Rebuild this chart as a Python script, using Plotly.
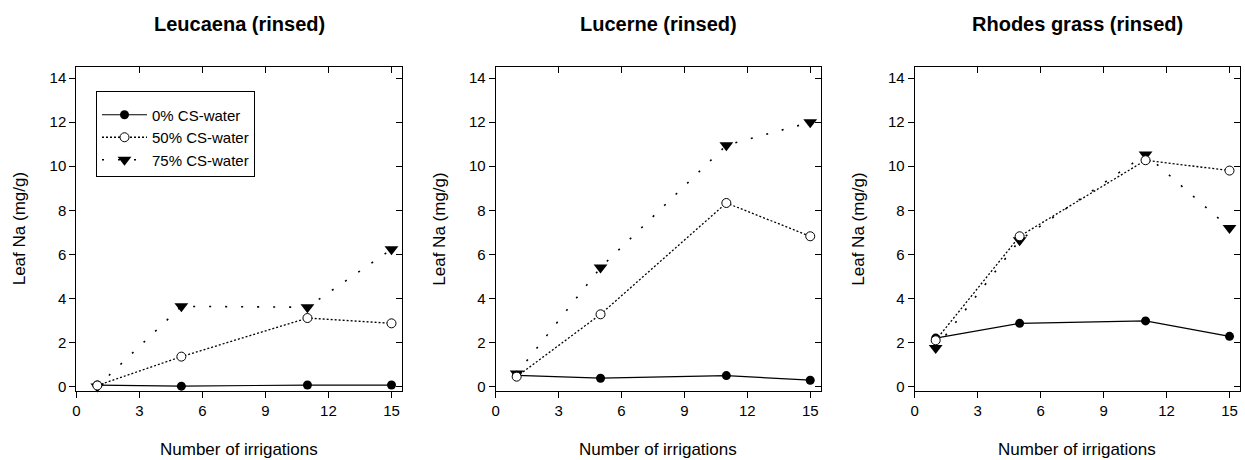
import plotly.graph_objects as go

# ---------------- data ----------------
x_irrig = [1, 5, 11, 15]
panel_titles = ["Leucaena (rinsed)", "Lucerne (rinsed)", "Rhodes grass (rinsed)"]
series_names = ["0% CS-water", "50% CS-water", "75% CS-water"]

leucaena_0 = [0.07, 0.02, 0.07, 0.07]
leucaena_50 = [0.05, 1.36, 3.11, 2.87]
leucaena_75 = [0.00, 3.64, 3.60, 6.23]

lucerne_0 = [0.51, 0.38, 0.50, 0.29]
lucerne_50 = [0.45, 3.28, 8.33, 6.82]
lucerne_75 = [0.59, 5.40, 10.95, 11.99]

rhodes_0 = [2.20, 2.87, 2.98, 2.28]
rhodes_50 = [2.10, 6.82, 10.27, 9.80]
rhodes_75 = [1.75, 6.64, 10.53, 7.20]

x_ticks = [0, 3, 6, 9, 12, 15]
y_ticks = [0, 2, 4, 6, 8, 10, 12, 14]
x_title = "Number of irrigations"
y_title = "Leaf Na (mg/g)"

panels = [
    (leucaena_0, leucaena_50, leucaena_75),
    (lucerne_0, lucerne_50, lucerne_75),
    (rhodes_0, rhodes_50, rhodes_75),
]

# ---------------- layout geometry ----------------
W, H = 1245, 460
FONT = "Liberation Sans, Arial, sans-serif"
left_px = [76.3, 495.7, 914.7]
right_px = [402.0, 820.7, 1240.0]
top_px, bot_px = 67.0, 391.0
ydom = [1 - bot_px / H, 1 - top_px / H]
xr = [0, 15.5]
yr = [-0.2, 14.5]

styles = [
    dict(mode="lines+markers", line=dict(color="black", width=1.2),
         marker=dict(symbol="circle", size=9, color="black")),
    dict(mode="lines+markers", line=dict(color="black", width=1.3, dash="2px,2px"),
         marker=dict(symbol="circle", size=9, color="white",
                     line=dict(color="black", width=1))),
    dict(mode="lines+markers", line=dict(color="black", width=1.6, dash="2px,14px"),
         marker=dict(symbol="triangle-down", size=12, color="black")),
]

fig = go.Figure()
layout = dict(
    width=W, height=H, margin=dict(l=0, r=0, t=0, b=0),
    paper_bgcolor="white", plot_bgcolor="white",
    font=dict(family=FONT, size=15, color="black"),
    showlegend=True,
    legend=dict(x=96 / W, y=1 - 91 / H, xanchor="left", yanchor="top",
                bordercolor="black", borderwidth=1, bgcolor="white",
                font=dict(family=FONT, size=15, color="black"),
                title=dict(text=" ", font=dict(size=5)),
                itemwidth=45, tracegroupgap=0),
)
annotations = []

draw_order = [0, 2, 1]
for p, data in enumerate(panels):
    xa = "x" if p == 0 else f"x{p + 1}"
    ya = "y" if p == 0 else f"y{p + 1}"
    for s in draw_order:
        fig.add_trace(go.Scatter(
            x=x_irrig, y=data[s], name=series_names[s],
            xaxis=xa, yaxis=ya, showlegend=(p == 0),
            legendrank=s + 1, cliponaxis=False, **styles[s]))
    dom = [left_px[p] / W, right_px[p] / W]
    xkey = "xaxis" if p == 0 else f"xaxis{p + 1}"
    ykey = "yaxis" if p == 0 else f"yaxis{p + 1}"
    layout[xkey] = dict(domain=dom, anchor=ya, range=xr, tickvals=x_ticks,
                        ticks="outside", ticklen=6, tickcolor="black",
                        showline=True, linecolor="black", linewidth=1, mirror=True,
                        showgrid=False, zeroline=False,
                        tickfont=dict(size=15), automargin=False)
    layout[ykey] = dict(domain=ydom, anchor=xa, range=yr, tickvals=y_ticks,
                        ticks="outside", ticklen=6, tickcolor="black",
                        showline=True, linecolor="black", linewidth=1, mirror=True,
                        showgrid=False, zeroline=False,
                        tickfont=dict(size=15), automargin=False)
    # inside ticks on top and right edges
    oxn, oyn = 4 + p, 4 + p
    layout[f"xaxis{oxn}"] = dict(overlaying=xa, side="top", anchor=f"y{oyn}",
                                 range=xr, tickvals=x_ticks, ticks="inside",
                                 ticklen=6, tickcolor="black", showticklabels=False,
                                 showline=False, showgrid=False, zeroline=False)
    layout[f"yaxis{oyn}"] = dict(overlaying=ya, side="right", anchor=f"x{oxn}",
                                 range=yr, tickvals=y_ticks, ticks="inside",
                                 ticklen=6, tickcolor="black", showticklabels=False,
                                 showline=False, showgrid=False, zeroline=False)
    fig.add_trace(go.Scatter(x=[], y=[], xaxis=f"x{oxn}", yaxis=f"y{oyn}",
                             showlegend=False, hoverinfo="skip"))

    cx = (left_px[p] + right_px[p]) / 2 / W
    annotations.append(dict(text=f"<b>{panel_titles[p]}</b>", x=cx, y=1 - 24 / H,
                            xref="paper", yref="paper", showarrow=False,
                            xanchor="center", yanchor="middle",
                            font=dict(family=FONT, size=20, color="black")))
    annotations.append(dict(text=x_title, x=cx, y=1 - 449 / H,
                            xref="paper", yref="paper", showarrow=False,
                            xanchor="center", yanchor="middle",
                            font=dict(family=FONT, size=17, color="black")))
    annotations.append(dict(text=y_title, x=(left_px[p] - 57) / W,
                            y=1 - ((top_px + bot_px) / 2) / H,
                            xref="paper", yref="paper", showarrow=False,
                            textangle=-90, xanchor="center", yanchor="middle",
                            font=dict(family=FONT, size=17, color="black")))

layout["annotations"] = annotations
fig.update_layout(**layout)
fig.write_html("out.html")
